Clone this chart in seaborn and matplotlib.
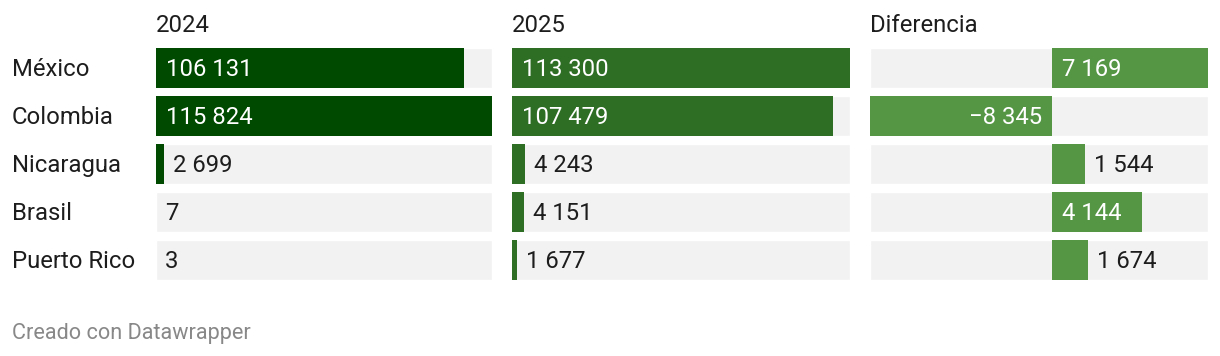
import matplotlib
matplotlib.use("Agg")
import matplotlib.pyplot as plt
import matplotlib.transforms as mtransforms
import numpy as np
import pandas as pd
import seaborn as sns

countries = ["México", "Colombia", "Nicaragua", "Brasil", "Puerto Rico"]
values_2024 = [106131, 115824, 2699, 7, 3]
values_2025 = [113300, 107479, 4243, 4151, 1677]
values_diff = [7169, -8345, 1544, 4144, 1674]
panel_titles = ["2024", "2025", "Diferencia"]

colors = ["#004a00", "#2e6e24", "#559645"]
bg_color = "#f2f2f2"
text_dark = "#1d1d1d"

sns.set_theme(style="white")
plt.rcParams["font.family"] = ["Roboto", "DejaVu Sans"]

W, H = 1220, 356
fig = plt.figure(figsize=(W / 100, H / 100), dpi=100)

# panel placement in pixels: (left, width)
panels = [(156, 336), (512, 338), (870, 338)]
top_px, bottom_px = 48, 280
fs = 17.2
dy = 0.04  # nudge text to optical centre of the row


def fmt(v):
    s = f"{abs(v):,}".replace(",", " ")
    return ("\u2212" + s) if v < 0 else s


df = pd.DataFrame({"country": countries, "y2024": values_2024,
                   "y2025": values_2025, "diff": values_diff})

bar_h = 40 / 48
for i, (col, (left, width)) in enumerate(zip(["y2024", "y2025", "diff"], panels)):
    ax = fig.add_axes([left / W, 1 - bottom_px / H, width / W, (bottom_px - top_px) / H])
    vals = df[col].to_numpy()
    xmin = min(0, vals.min())
    xmax = vals.max()
    ypos = np.arange(len(countries))
    ax.barh(ypos, xmax - xmin, left=xmin, height=bar_h, color=bg_color, zorder=0)
    sns.barplot(data=df, x=col, y="country", orient="h", color=colors[i],
                width=bar_h, saturation=1, linewidth=0, ax=ax, zorder=2)
    ax.set_xlim(xmin, xmax)
    ax.set_ylim(len(countries) - 1 + bar_h / 2, -bar_h / 2)
    ax.set_axis_off()

    px_per_unit = width / (xmax - xmin)
    off = 10 / px_per_unit
    for j, v in enumerate(vals):
        label = fmt(v)
        bar_px = abs(v) * px_per_unit
        need_px = len(label) * 12 + 18
        if bar_px >= need_px:
            if v >= 0:
                ax.text(off, j + dy, label, color="white", ha="left", va="center", fontsize=fs, zorder=3)
            else:
                ax.text(-off, j + dy, label, color="white", ha="right", va="center", fontsize=fs, zorder=3)
        else:
            if v >= 0:
                ax.text(v + off * 0.9, j + dy, label, color=text_dark, ha="left", va="center", fontsize=fs, zorder=3)
            else:
                ax.text(v - off * 0.9, j + dy, label, color=text_dark, ha="right", va="center", fontsize=fs, zorder=3)

    fig.text(left / W, 1 - 32 / H, panel_titles[i], ha="left", va="baseline",
             fontsize=fs, color=text_dark)

    if i == 0:
        trans = mtransforms.blended_transform_factory(fig.transFigure, ax.transData)
        for j, c in enumerate(countries):
            ax.text(12 / W, j + dy, c, transform=trans, ha="left", va="center",
                    fontsize=fs, color=text_dark)

fig.text(12 / W, 1 - 334 / H, "Creado con Datawrapper", ha="left", va="center",
         fontsize=15.6, color="#888888")

fig.savefig("out.png", dpi=100, facecolor="white")
